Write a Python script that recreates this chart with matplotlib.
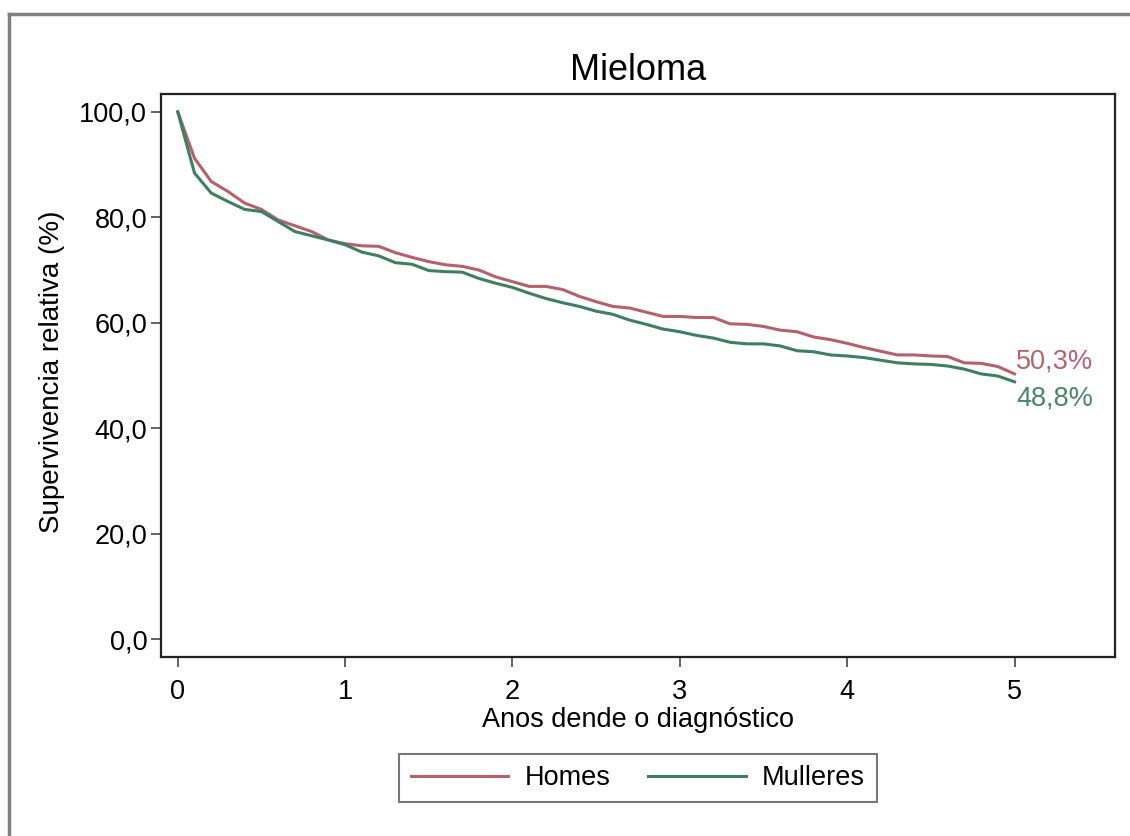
import matplotlib
matplotlib.use("Agg")
import matplotlib.pyplot as plt
from matplotlib.lines import Line2D

plt.rcParams['font.family'] = ['Liberation Sans', 'DejaVu Sans']

anos = [i / 10 for i in range(51)]

homes = [100.0, 91.2, 86.8, 84.9, 82.7, 81.5, 79.5, 78.4, 77.3, 75.7,
         75.0, 74.6, 74.5, 73.3, 72.4, 71.6, 71.0, 70.7, 70.0, 68.7,
         67.8, 66.9, 66.9, 66.3, 65.0, 64.0, 63.1, 62.8, 62.0, 61.2,
         61.2, 61.0, 61.0, 59.8, 59.7, 59.3, 58.6, 58.3, 57.3, 56.8,
         56.1, 55.3, 54.6, 53.9, 53.9, 53.7, 53.6, 52.4, 52.3, 51.7,
         50.3]

mulleres = [100.0, 88.4, 84.6, 83.0, 81.5, 81.1, 79.2, 77.3, 76.5, 75.7,
            74.8, 73.4, 72.7, 71.4, 71.1, 69.9, 69.7, 69.6, 68.4, 67.5,
            66.7, 65.6, 64.6, 63.8, 63.1, 62.2, 61.6, 60.5, 59.7, 58.8,
            58.3, 57.6, 57.1, 56.3, 56.0, 56.0, 55.6, 54.7, 54.5, 53.9,
            53.7, 53.4, 52.9, 52.4, 52.2, 52.1, 51.8, 51.2, 50.3, 49.9,
            48.8]

yticks = [0, 20, 40, 60, 80, 100]
ytick_labels = ["0,0", "20,0", "40,0", "60,0", "80,0", "100,0"]
xticks = [0, 1, 2, 3, 4, 5]

col_h = "#B5606B"
col_m = "#3E7F62"

fig = plt.figure(figsize=(11.30, 8.36), dpi=100)
ax = fig.add_axes([0.1425, 0.2141, 0.8442, 0.6735])

ax.plot(anos, homes, color=col_h, lw=2.2, label="Homes")
ax.plot(anos, mulleres, color=col_m, lw=2.2, label="Mulleres")

ax.annotate("50,3%", (anos[-1], homes[-1]), xytext=(1, 9), textcoords="offset points",
            ha="left", va="center", color="#B5636E", fontsize=19.5)
ax.annotate("48,8%", (anos[-1], mulleres[-1]), xytext=(1, -12), textcoords="offset points",
            ha="left", va="center", color="#4A876A", fontsize=19.5)

ax.set_xlim(-0.10, 5.60)
ax.set_ylim(-3.4, 103.4)
ax.set_xticks(xticks)
ax.set_yticks(yticks)
ax.set_yticklabels(ytick_labels)
ax.tick_params(axis="both", labelsize=19.5, length=7, width=1.3, color="#555555", direction="out")
ax.tick_params(axis="x", pad=9)
ax.tick_params(axis="y", pad=3)

for s in ax.spines.values():
    s.set_linewidth(1.6)
    s.set_color("#222222")

ax.set_xlabel("Anos dende o diagnóstico", fontsize=19.5)
ax.xaxis.set_label_coords(0.5, -0.088)
ax.set_ylabel("Supervivencia relativa (%)", fontsize=20)
ax.yaxis.set_label_coords(-0.101, 0.507)

fig.text(638 / 1130, 1 - 70 / 836, "Mieloma", ha="center", va="center", fontsize=26)

leg = ax.legend(loc="center", bbox_to_anchor=(0.5, -0.215), ncol=2, fontsize=19.5,
                frameon=True, fancybox=False, handlelength=3.6, handletextpad=0.6,
                columnspacing=1.4, borderpad=0.42)
leg.get_frame().set_edgecolor("#555555")
leg.get_frame().set_linewidth(1.5)

# outer frame (only left and top visible)
fig.add_artist(Line2D([9 / 1130, 9 / 1130], [0, 1 - 14 / 836], transform=fig.transFigure,
                      color="#808080", lw=2.5))
fig.add_artist(Line2D([9 / 1130, 1], [1 - 14 / 836, 1 - 14 / 836], transform=fig.transFigure,
                      color="#808080", lw=2.5))

fig.savefig("out.png", dpi=100)
